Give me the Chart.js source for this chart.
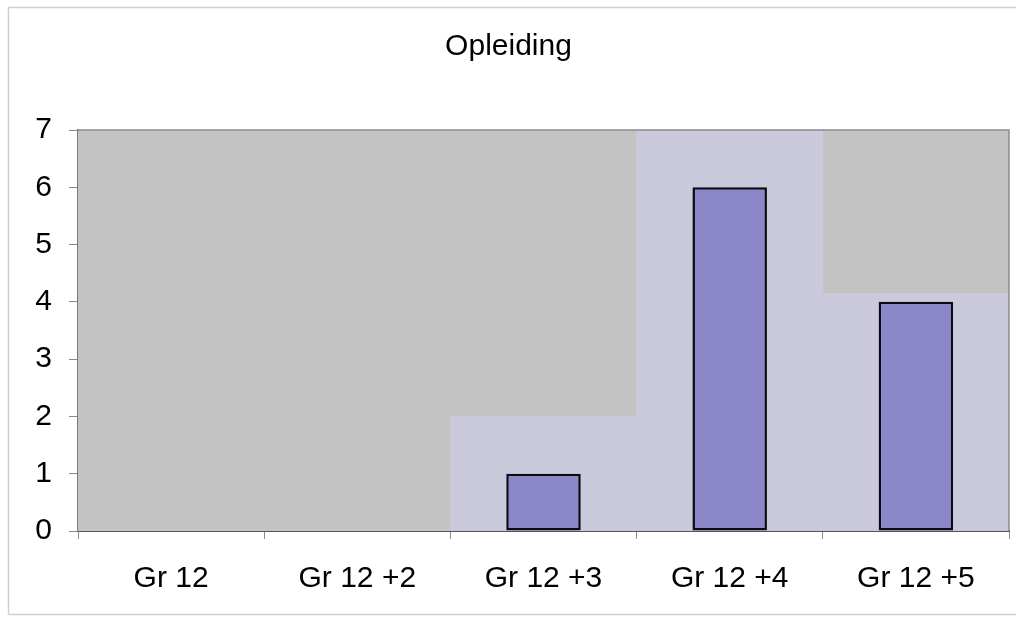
<!DOCTYPE html>
<html>
<head>
<meta charset="utf-8">
<title>Opleiding</title>
<script src="https://cdn.jsdelivr.net/npm/chart.js@4/dist/chart.umd.min.js"></script>
<style>
  html, body { margin: 0; padding: 0; background: #ffffff; }
  #wrap { position: relative; width: 1016px; height: 617px; }
  canvas { display: block; }
</style>
</head>
<body>
<div id="wrap"><canvas id="chart" width="1016" height="617"></canvas></div>
<script>
// Categories and counts per education level
const categories = ['Gr 12', 'Gr 12 +2', 'Gr 12 +3', 'Gr 12 +4', 'Gr 12 +5'];
const counts = [0, 0, 1, 6, 4];
// Light lavender bands printed behind the bars
const bandHeights = [0, 0, 2, 7, 4.15];
const yTicks = [0, 1, 2, 3, 4, 5, 6, 7];

const FONT = 'Arial, "Liberation Sans", sans-serif';

// Plot background, frame around the plot and the light outer border
const framePlugin = {
  id: 'frame',
  beforeDatasetsDraw(chart) {
    const { ctx, chartArea: a } = chart;
    ctx.save();
    ctx.fillStyle = '#c3c3c3';
    ctx.fillRect(a.left, a.top, a.right - a.left, a.bottom - a.top);
    ctx.restore();
  },
  beforeDraw(chart) {
    const { ctx, width, height } = chart;
    ctx.save();
    ctx.strokeStyle = '#cfcfcf';
    ctx.lineWidth = 1.5;
    ctx.beginPath();
    ctx.moveTo(8.5, height - 2.5);
    ctx.lineTo(8.5, 7.5);
    ctx.lineTo(width, 7.5);
    ctx.moveTo(8.5, height - 2.5);
    ctx.lineTo(width, height - 2.5);
    ctx.stroke();
    ctx.restore();
  },
  afterDatasetsDraw(chart) {
    const { ctx, chartArea: a } = chart;
    ctx.save();
    ctx.strokeStyle = '#8a8a8a';
    ctx.lineWidth = 1.5;
    ctx.beginPath();
    ctx.moveTo(a.left, a.top);
    ctx.lineTo(a.right, a.top);
    ctx.lineTo(a.right, a.bottom);
    ctx.stroke();
    ctx.restore();
  }
};

new Chart(document.getElementById('chart'), {
  type: 'bar',
  data: {
    labels: categories,
    datasets: [
      {
        label: 'Opleiding',
        data: counts,
        backgroundColor: '#8c87c8',
        borderColor: '#0a0a14',
        borderWidth: 2.5,
        borderSkipped: false,
        barPercentage: 0.4,
        categoryPercentage: 1,
        grouped: false,
        order: 0
      },
      {
        label: 'band',
        data: bandHeights,
        backgroundColor: '#cbc9dc',
        borderWidth: 0,
        barPercentage: 1,
        categoryPercentage: 1,
        grouped: false,
        order: 1
      }
    ]
  },
  options: {
    responsive: false,
    animation: false,
    events: [],
    layout: { padding: { left: 8, right: 7, top: 0, bottom: 0 } },
    plugins: {
      legend: { display: false },
      tooltip: { enabled: false },
      title: {
        display: true,
        text: 'Opleiding',
        color: '#000000',
        font: { family: FONT, size: 30, weight: 'normal' },
        padding: { top: 29, bottom: 65 }
      }
    },
    scales: {
      x: {
        offset: true,
        grid: {
          offset: true,
          drawOnChartArea: false,
          drawTicks: true,
          tickLength: 8,
          color: '#8a8a8a',
          lineWidth: 1
        },
        border: { display: true, color: '#555555', width: 2 },
        ticks: {
          color: '#000000',
          font: { family: FONT, size: 30 },
          padding: 22,
          maxRotation: 0,
          autoSkip: false
        },
        afterFit(scale) { scale.height = 86; }
      },
      y: {
        min: 0,
        max: 7,
        afterBuildTicks(scale) { scale.ticks = yTicks.map(v => ({ value: v })); },
        grid: {
          drawOnChartArea: false,
          drawTicks: true,
          tickLength: 9,
          color: '#8a8a8a',
          lineWidth: 1
        },
        border: { display: true, color: '#7a7a7a', width: 1.5 },
        ticks: {
          color: '#000000',
          font: { family: FONT, size: 30 },
          padding: 17
        },
        afterFit(scale) { scale.width = 70; }
      }
    }
  },
  plugins: [framePlugin]
});
</script>
</body>
</html>
